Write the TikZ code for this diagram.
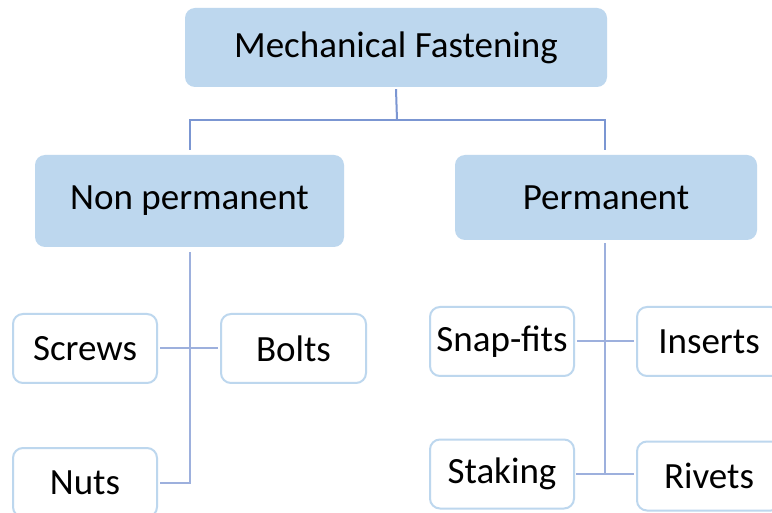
\documentclass[tikz,border=0pt]{standalone}
\usepackage{fontspec}
\setmainfont{Carlito}
\definecolor{hdfill}{HTML}{BDD7EE}
\definecolor{bxline}{HTML}{BDD7EE}
\definecolor{cnline}{HTML}{7B96D2}
\definecolor{cnlight}{HTML}{9DB0DD}
\tikzset{
  hdbox/.style={draw=none, fill=hdfill, rounded corners=10pt, font=\fontsize{37}{41}\selectfont, inner sep=0pt},
  leafbox/.style={draw=bxline, line width=2pt, fill=white, rounded corners=10pt, font=\fontsize{37}{41}\selectfont, inner sep=0pt, minimum width=144pt, minimum height=69pt},
  conn/.style={draw=cnline, line width=2pt},
  connlt/.style={draw=cnlight, line width=2pt}
}
\begin{document}
\begin{tikzpicture}[x=1pt,y=-1pt]
\useasboundingbox (0,0) rectangle (772,513);
\clip (0,0) rectangle (772,513);
\fill[white] (0,0) rectangle (772,513);
\node[hdbox, minimum width=422pt, minimum height=79pt] (mf) at (396,47.5) {Mechanical Fastening};
\node[hdbox, minimum width=309pt, minimum height=92pt] (np) at (189.5,201) {Non permanent};
\node[hdbox, minimum width=302pt, minimum height=85pt] (pm) at (606,197.5) {Permanent};
\node[leafbox] (screws) at (85,348.5) {Screws};
\node[leafbox, minimum width=145pt] (bolts) at (293.5,348.5) {Bolts};
\node[leafbox] (nuts) at (85,482.5) {Nuts};
\node[leafbox] (snap) at (502,341.5) {Snap-fits};
\node[leafbox] (inserts) at (709,341.5) {Inserts};
\node[leafbox] (staking) at (502,474) {Staking};
\node[leafbox] (rivets) at (709,476) {Rivets};
\coordinate (j1) at (397,120);
\draw[conn] ([yshift=-2pt]mf.south) -- (j1);
\draw[conn] ([xshift=0.5pt,yshift=5pt]np.north) |- (j1) -| ([xshift=-1pt,yshift=5pt]pm.north);
\draw[connlt] ([xshift=0.5pt,yshift=-5pt]np.south) |- ([xshift=2pt]nuts.east);
\draw[connlt] ([xshift=2pt]screws.east) -- ([xshift=-2pt]bolts.west);
\draw[connlt] ([xshift=-1pt,yshift=-3pt]pm.south) |- ([xshift=1pt]staking.east);
\draw[connlt] ([xshift=2pt]staking.east) -- ([xshift=-2pt]rivets.west |- staking.east);
\draw[connlt] ([xshift=2pt]snap.east) -- ([xshift=-2pt]inserts.west);
\end{tikzpicture}
\end{document}
